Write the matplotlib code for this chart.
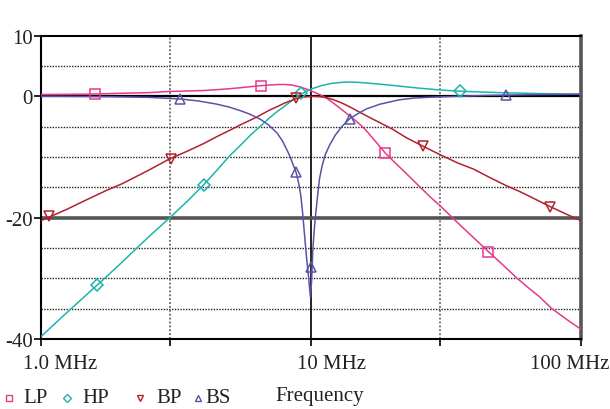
import numpy as np
import matplotlib
matplotlib.use("Agg")
from matplotlib import pyplot as plt
from matplotlib.lines import Line2D
import matplotlib.transforms as mtrans

plt.rcParams['font.family'] = ['Liberation Serif', 'DejaVu Serif']

# Frequencies in MHz, gains in dB
lp_f = [1, 1.5, 2, 2.5, 3, 3.5, 4, 4.5, 5, 5.5, 6, 6.5, 7, 7.5, 8, 8.5, 9, 9.3, 9.6, 10,
        10.5, 11.1, 11.5, 12, 12.5, 13, 13.9, 14.7, 15.5, 16.2, 17, 18, 18.8, 20, 22.5, 25,
        27.5, 30, 33.4, 36, 40, 45.4, 50, 58, 64, 70, 78, 90, 100]
lp_db = [0.3, 0.35, 0.5, 0.6, 0.8, 0.88, 0.95, 1.1, 1.25, 1.42, 1.6, 1.75, 1.85, 1.93, 1.95,
         1.85, 1.6, 1.4, 1.2, 0.9, 0.5, 0.0, -0.4, -1.0, -1.6, -2.2, -3.2, -4.1, -5.0, -5.9,
         -7.0, -8.3, -9.3, -10.5, -12.7, -14.7, -16.5, -18.0, -20.0, -21.4, -23.3, -25.6,
         -27.3, -30.0, -31.6, -33.0, -35.0, -37.0, -38.4]

hp_f = [1, 1.25, 1.5, 1.75, 2, 2.5, 3, 3.5, 4, 4.5, 5, 5.5, 6, 6.5, 7, 7.5, 8, 8.5, 9, 9.5,
        10, 10.5, 11, 12, 13, 14, 15, 17, 20, 25, 30, 35, 40, 50, 70, 100]
hp_db = [-39.6, -35.6, -32.4, -29.7, -27.3, -23.2, -20.0, -17.2, -14.6, -12.1, -9.8, -8.0,
         -6.3, -4.9, -3.6, -2.5, -1.6, -0.7, 0.1, 0.7, 1.2, 1.5, 1.8, 2.15, 2.3, 2.35, 2.3,
         2.1, 1.8, 1.35, 1.05, 0.85, 0.75, 0.6, 0.45, 0.35]

bp_f = [1, 1.25, 1.5, 1.75, 2, 2.5, 3, 3.5, 4, 4.5, 5, 5.6, 6.25, 7, 7.5, 8, 8.8, 9.3, 10,
        10.7, 11.3, 12, 13, 14, 15.1, 17, 20, 22.5, 25.9, 30, 35, 40, 46, 52.7, 60, 68, 77,
        88, 100]
bp_db = [-20.5, -18.6, -16.9, -15.5, -14.4, -12.2, -10.3, -9.0, -7.8, -6.6, -5.6, -4.5,
         -3.5, -2.3, -1.7, -1.1, -0.4, -0.15, 0.0, -0.05, -0.2, -0.5, -1.1, -1.8, -2.6,
         -3.8, -5.4, -6.8, -8.2, -9.6, -11.0, -12.0, -13.4, -14.7, -15.8, -17.0, -18.2,
         -19.4, -20.5]

bs_f = [1, 1.5, 2, 2.5, 3, 3.28, 3.8, 4.45, 5, 5.5, 5.9, 6.5, 7, 7.5, 7.85, 8.3, 8.8, 9.0,
        9.17, 9.3, 9.45, 9.6, 9.8, 9.95, 10.05, 10.15, 10.28, 10.4, 10.6, 10.75, 11.0, 11.3,
        11.7, 12.3, 13.0, 13.9, 15, 16, 18, 21.1, 24, 27.1, 35, 45, 52.7, 70, 100]
bs_db = [0.0, -0.03, -0.1, -0.17, -0.35, -0.45, -0.75, -1.27, -1.8, -2.4, -2.9, -3.8, -4.8,
         -6.1, -7.4, -9.6, -12.5, -14.3, -16.4, -19.0, -22.5, -26.0, -30.0, -33.1, -30.5,
         -25.5, -22.0, -19.5, -16.0, -13.6, -11.4, -9.6, -8.1, -6.4, -5.0, -3.7, -2.8, -2.1,
         -1.3, -0.6, -0.3, -0.17, 0.0, 0.15, 0.2, 0.28, 0.35]

# marker positions
lp_mf = [1.59, 6.54, 18.8, 45.4]
lp_mdb = [0.3, 1.75, -9.4, -25.7]
hp_mf = [1.61, 4.0, 9.2, 35.5]
hp_mdb = [-31.1, -14.6, 0.5, 0.8]
bp_mf = [1.07, 3.03, 8.8, 25.9, 77]
bp_mdb = [-19.8, -10.3, -0.3, -8.2, -18.2]
bs_mf = [3.28, 8.8, 9.98, 13.9, 52.7]
bs_mdb = [-0.45, -12.5, -28.1, -3.7, 0.2]

series = [
    ('LP', lp_f, lp_db, lp_mf, lp_mdb, '#e8388c', 's'),
    ('HP', hp_f, hp_db, hp_mf, hp_mdb, '#1fb3ab', 'D'),
    ('BP', bp_f, bp_db, bp_mf, bp_mdb, '#b0222e', 'v'),
    ('BS', bs_f, bs_db, bs_mf, bs_mdb, '#5a53a6', '^'),
]

fig = plt.figure(figsize=(6.1, 4.1), dpi=100)
ax = fig.add_axes([0.0672, 0.1707, 0.8853, 0.74])

ax.set_xscale('log')
ax.set_xlim(1, 100)
ax.set_ylim(-40, 10)

# grid
for y in [5, -5, -10, -15, -25, -30, -35]:
    ax.axhline(y, color='#222222', lw=1.0, ls=(0, (1, 1)), zorder=1)
for x in [3, 30]:
    ax.axvline(x, color='#777777', lw=1.4, ls=(0, (1, 1)), zorder=1)
ax.axvline(10, color='black', lw=1.2, zorder=1)
ax.axhline(0, color='black', lw=1.6, zorder=1)
ax.axhline(-20, color='#555555', lw=2.6, zorder=1)

for name, f, db, mf, mdb, col, mk in series:
    ax.plot(f, db, color=col, lw=1.1, zorder=3)
    ms = 6 if mk == 'D' else 7.5
    ax.plot(mf, mdb, ls='none', marker=mk, ms=ms, mfc='none', mec=col, mew=1.1, zorder=4)

for s in ['left', 'bottom', 'top']:
    ax.spines[s].set_linewidth(1.5)
    ax.spines[s].set_color('black')
ax.spines['right'].set_linewidth(2.6)
ax.spines['right'].set_color('#555555')

ax.set_yticks([10, 0, -20, -40])
ax.set_yticklabels(['10', '0', '-20', '-40'])
ax.set_xticks([1, 10, 100])
ax.set_xticklabels(['1.0 MHz', '10 MHz', '100 MHz'])
ax.set_xticks([3, 30], minor=True)
ax.xaxis.set_minor_formatter(matplotlib.ticker.NullFormatter())
ax.tick_params(axis='both', which='both', direction='out', length=5, width=1.2,
               color='black', labelsize=15, labelcolor='#222222')
ax.tick_params(axis='y', pad=1)
ax.tick_params(axis='x', pad=6)

offs = [14, 15, -8]
for lab, dx in zip(ax.get_xticklabels(), offs):
    lab.set_transform(lab.get_transform() + mtrans.ScaledTranslation(dx / 72, 0, fig.dpi_scale_trans))

# legend row along the bottom
leg_y = 1 - 399 / 410
leg_mx = [8.6, 66.5, 140, 198]
leg_tx = [23.5, 82, 156, 205]
for (name, f, db, mf, mdb, col, mk), mx, tx in zip(series, leg_mx, leg_tx):
    fig.add_artist(Line2D([mx / 610], [leg_y], transform=fig.transFigure, ls='none',
                          marker=mk, ms=4 if mk == 'D' else 5, mfc='none', mec=col, mew=1.0))
    fig.text(tx / 610, leg_y, name, fontsize=15, color='#222222', va='center')
fig.text(275 / 610, leg_y + 0.005, 'Frequency', fontsize=15, color='#222222', va='center')

fig.savefig('out.png', dpi=100)
